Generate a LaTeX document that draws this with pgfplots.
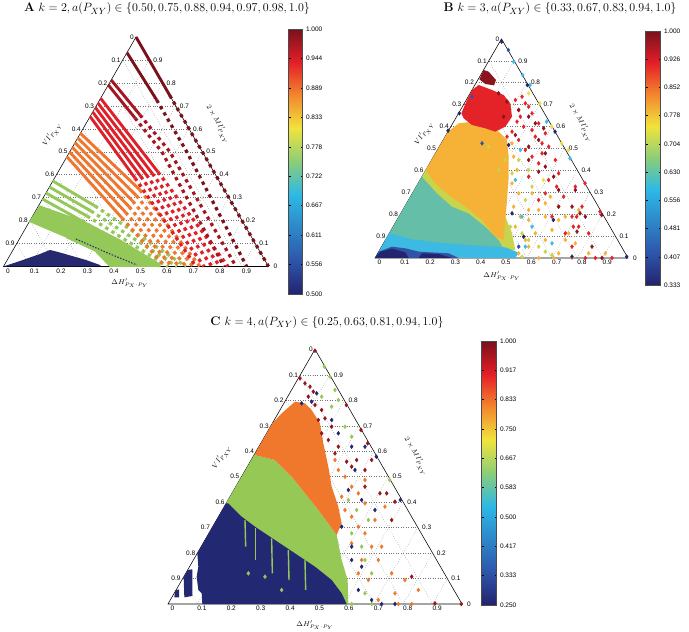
\documentclass[border=0pt]{standalone}
\usepackage{fontspec}
\usepackage{pgfplots}
\pgfplotsset{compat=1.18}
\usetikzlibrary{calc}
\newfontfamily\hv{Liberation Sans}

% panel A colours
\definecolor{aNavy}{RGB}{38,40,112}
\definecolor{aGreen}{RGB}{148,200,88}
\definecolor{aOrange}{RGB}{240,118,45}
\definecolor{aRed}{RGB}{222,32,40}
\definecolor{aMaroon}{RGB}{165,22,32}
\definecolor{aDark}{RGB}{122,17,27}
% panel B colours
\definecolor{bDark}{RGB}{140,20,30}
\definecolor{bRed}{RGB}{228,35,40}
\definecolor{bOrange}{RGB}{245,178,55}
\definecolor{bYG}{RGB}{200,212,75}
\definecolor{bTeal}{RGB}{100,190,168}
\definecolor{bCyan}{RGB}{60,186,228}
\definecolor{bBlue}{RGB}{50,82,165}
\definecolor{bNavy}{RGB}{35,38,110}
\definecolor{bYellow}{RGB}{235,225,70}
% panel C colours
\definecolor{cNavy}{RGB}{35,40,115}
\definecolor{cGreen}{RGB}{150,200,85}
\definecolor{cOrange}{RGB}{240,120,45}
\definecolor{cDark}{RGB}{150,20,30}

\tikzset{
  gridline/.style={black!55, dotted, line width=0.45pt},
  tl/.style={font=\hv\fontsize{6.5}{7}\selectfont, inner sep=0.5pt},
  lab/.style={font=\fontsize{7.5}{9}\selectfont, inner sep=0pt},
  ttl/.style={font=\fontsize{12.5}{15}\selectfont, inner sep=0pt},
}
\pgfplotsset{
  colormap={mjet}{rgb255(0cm)=(35,35,110) rgb255(1cm)=(45,85,170) rgb255(3cm)=(45,185,230) rgb255(4cm)=(140,205,120) rgb255(5cm)=(240,228,60) rgb255(6cm)=(243,135,45) rgb255(7cm)=(228,30,40) rgb255(8cm)=(120,18,28)},
  tern/.style={scale only axis, axis lines=none, xtick=\empty, ytick=\empty, y dir=reverse,
    clip=false, enlargelimits=false, anchor=south west, colormap name=mjet, colorbar},
  cbar/.style={anchor=north west, scale only axis, y dir=normal, axis lines=box, xtick=\empty,
    ytick pos=both, yticklabel pos=right, tick align=inside, major tick length=2pt,
    yticklabel style={font=\hv\fontsize{6.5}{7}\selectfont},
    axis line style={black!70, line width=0.4pt}, ytick style={black, line width=0.4pt}},
  stripe/.style={line width=2.9pt},
  dstripe/.style={line width=3.2pt, dash pattern=on 3.4pt off 3.8pt},
  pts/.style={only marks, mark=diamond*, mark size=2pt},
}

% ternary frame: #1 = x of lower-left corner, #2 = y of base (y grows downward), #3 = side
\newcommand{\ternframe}[3]{%
  \pgfplotsinvokeforeach{1,...,9}{%
    \draw[gridline] (axis cs:{#1+#3*##1/20},{#2-0.8660254*#3*##1/10}) -- (axis cs:{#1+#3-#3*##1/20},{#2-0.8660254*#3*##1/10});
    \draw[gridline] (axis cs:{#1+#3*##1/10},#2) -- (axis cs:{#1+#3/2+#3*##1/20},{#2-0.8660254*#3*(1-##1/10)});
    \draw[gridline] (axis cs:{#1+#3*##1/20},{#2-0.8660254*#3*##1/10}) -- (axis cs:{#1+#3*##1/10},#2);
  }
  \draw[black, line width=0.55pt] (axis cs:#1,#2) -- (axis cs:{#1+#3},#2) -- (axis cs:{#1+#3/2},{#2-0.8660254*#3}) -- cycle;
}
\newcommand{\ternlabels}[3]{%
  \node[tl, anchor=east, xshift=-1.5pt] at (axis cs:{#1+#3/2},{#2-0.8660254*#3}) {0};
  \pgfplotsinvokeforeach{1,...,9}{%
    \node[tl, anchor=east, xshift=-1.5pt] at (axis cs:{#1+#3*(1-##1/10)/2},{#2-0.8660254*#3*(1-##1/10)}) {0.##1};
    \node[tl, anchor=west, xshift=3.5pt] at (axis cs:{#1+#3-#3*##1/20},{#2-0.8660254*#3*##1/10}) {0.##1};
    \node[tl, anchor=north, xshift=4.5pt, yshift=-1.5pt] at (axis cs:{#1+#3*##1/10},#2) {0.##1};
  }
  \node[tl, anchor=north, xshift=4.5pt, yshift=-1.5pt] at (axis cs:#1,#2) {0};
  \node[tl, anchor=west, xshift=4.5pt] at (axis cs:{#1+#3},#2) {0};
}

\begin{document}
\begin{tikzpicture}
\path[use as bounding box] (0,0) rectangle (689pt,632pt);

%================ Panel A (units: 1 = 1pt) ================
\begin{axis}[tern, at={(0pt,332pt)}, width=275pt, height=270pt,
  xmin=0, xmax=275, ymin=30, ymax=300,
  point meta min=0.5, point meta max=1,
  colorbar style={cbar, at={($(parent axis.north west)+(280pt,1pt)$)}, width=14pt, height=265pt,
    ytick={0.5,0.55556,0.61111,0.66667,0.72222,0.77778,0.83333,0.88889,0.94444,1},
    yticklabels={0.500,0.556,0.611,0.667,0.722,0.778,0.833,0.889,0.944,1.000}}]
\ternframe{3.5}{266.5}{265}
% a = 0.75
\addplot[fill=aGreen, draw=aGreen, line width=1pt] coordinates {(29.4,222) (40,206) (85,222) (120,240) (160,264) (160,266.5) (110,266.5) (95,251) (67,238)};
\addplot[stripe, aGreen] coordinates {(52.9,181) (95,206)};
\addplot[dstripe, aGreen] coordinates {(95,206) (186,266.5)};
\addplot[stripe, aGreen] coordinates {(49.4,187) (91,211)};
\addplot[dstripe, aGreen] coordinates {(91,211) (177,266.5)};
\addplot[stripe, aGreen] coordinates {(45.9,193) (87,216)};
\addplot[dstripe, aGreen] coordinates {(87,216) (168,266.5)};
\addplot[stripe, aGreen] coordinates {(42.5,199) (82,221)};
\addplot[dstripe, aGreen] coordinates {(82,221) (160,266.5)};
% a = 0.50
\addplot[fill=aNavy, draw=none] coordinates {(3.5,266.5) (20,261) (40,254) (50,250) (58,252) (72,256) (86,260) (100,265) (101,266.5)};
\addplot[aNavy, line width=1pt, dash pattern=on 1.5pt off 1.5pt] coordinates {(76,239) (110,254) (137,265)};
% a = 0.88
\addplot[stripe, aOrange] coordinates {(80.4,133.3) (140,190)};
\addplot[dstripe, aOrange] coordinates {(140,190) (200,266.5)};
\addplot[stripe, aOrange] coordinates {(77.7,138) (136.4,195.6)};
\addplot[dstripe, aOrange] coordinates {(136.4,195.6) (193,266.5)};
\addplot[stripe, aOrange] coordinates {(75,142.7) (132.8,201.2)};
\addplot[dstripe, aOrange] coordinates {(132.8,201.2) (186,266.5)};
\addplot[stripe, aOrange] coordinates {(72.3,147.3) (129.2,206.8)};
\addplot[dstripe, aOrange] coordinates {(129.2,206.8) (179,266.5)};
\addplot[stripe, aOrange] coordinates {(69.6,152) (125.6,212.4)};
\addplot[dstripe, aOrange] coordinates {(125.6,212.4) (172,266.5)};
\addplot[stripe, aOrange] coordinates {(66.9,156.7) (122,218)};
\addplot[dstripe, aOrange] coordinates {(122,218) (165,266.5)};
% a = 0.94
\addplot[stripe, aRed] coordinates {(100.6,98.3) (158,172)};
\addplot[dstripe, aRed] coordinates {(158,172) (228,266.5)};
\addplot[stripe, aRed] coordinates {(97.9,103) (152.3,173.5)};
\addplot[dstripe, aRed] coordinates {(152.3,173.5) (220,266.5)};
\addplot[stripe, aRed] coordinates {(95.3,107.5) (146.5,175)};
\addplot[dstripe, aRed] coordinates {(146.5,175) (212,266.5)};
\addplot[stripe, aRed] coordinates {(92.7,112) (140.8,176.5)};
\addplot[dstripe, aRed] coordinates {(140.8,176.5) (204,266.5)};
\addplot[stripe, aRed] coordinates {(90.1,116.5) (135,178)};
\addplot[dstripe, aRed] coordinates {(135,178) (196,266.5)};
% a = 0.97, 0.98
\addplot[stripe, aMaroon] coordinates {(111.2,80) (140,115)};
\addplot[dstripe, aMaroon] coordinates {(140,115) (170,152) (236,266.5)};
\addplot[stripe, aMaroon] coordinates {(108.3,85) (135,118)};
\addplot[dstripe, aMaroon] coordinates {(135,118) (162,152) (224,266.5)};
% a = 1.0
\addplot[stripe, aDark] coordinates {(127,52.7) (156.7,100)};
\addplot[dstripe, aDark] coordinates {(156.7,100) (186.7,151.7) (246.7,266.5)};
\addplot[stripe, aDark] coordinates {(136,37) (169.8,95.5)};
\addplot[dstripe, aDark] coordinates {(169.8,95.5) (268.5,266.5)};
\ternlabels{3.5}{266.5}{265}
\node[ttl] at (axis cs:167,9) {\textbf{A} $k=2, a(P_{XY})\in\{0.50, 0.75, 0.88, 0.94, 0.97, 0.98, 1.0\}$};
\node[lab] at (axis cs:130,283) {$\Delta H'_{P_X\cdot P_Y}$};
\node[lab, rotate=60] at (axis cs:52,134.5) {$VI'_{P_{XY}}$};
\node[lab, rotate=-60] at (axis cs:218,124.5) {$2\times MI'_{P_{XY}}$};
\end{axis}

%================ Panel B (units: 1 = 1/3 pt) ================
\begin{axis}[tern, at={(360pt,332pt)}, width=280pt, height=270pt,
  xmin=-36, xmax=804, ymin=-90, ymax=720,
  point meta min=0.33333, point meta max=1,
  colorbar style={cbar, at={($(parent axis.north west)+(277pt,-1pt)$)}, width=15pt, height=254pt,
    ytick={0.33333,0.40741,0.48148,0.55556,0.62963,0.7037,0.77778,0.85185,0.92593,1},
    yticklabels={0.333,0.407,0.481,0.556,0.630,0.704,0.778,0.852,0.926,1.000}}]
\ternframe{9}{594}{759}
\addplot[fill=bTeal, draw=none] coordinates {(161,330) (220,380) (300,430) (360,470) (400,520) (420,560) (380,566) (300,563) (200,556) (120,548) (40,540)};
\addplot[fill=bYG, draw=none] coordinates {(167,320) (230,360) (300,400) (350,430) (400,470) (420,520) (430,570) (400,575) (380,540) (340,500) (290,460) (240,440) (195,400) (150,350)};
\addplot[fill=bOrange, draw=none] coordinates {(228,215) (260,190) (300,185) (340,200) (380,215) (405,240) (410,290) (410,350) (405,420) (400,480) (395,540) (370,530) (330,480) (280,440) (230,405) (190,370) (161,330)};
\addplot[fill=bCyan, draw=none] coordinates {(52,520) (120,538) (200,548) (300,556) (400,562) (440,578) (430,594) (300,594) (200,590) (100,585) (20,575)};
\addplot[fill=bBlue, draw=none] coordinates {(20,575) (60,560) (100,565) (140,575) (230,580) (260,594) (9,594)};
\addplot[fill=bNavy, draw=none] coordinates {(9,594) (25,575) (60,566) (100,577) (110,594)};
\addplot[fill=bNavy, draw=none] coordinates {(140,594) (150,580) (200,582) (240,594)};
\addplot[fill=bRed, draw=none] coordinates {(320,75) (360,90) (395,105) (415,130) (420,170) (400,200) (370,215) (340,205) (300,195) (275,175) (268,160) (285,120) (300,90)};
\addplot[fill=bDark, draw=none] coordinates {(335,30) (350,35) (372,60) (366,76) (340,72) (322,58)};
\addplot[pts, bYG] coordinates {(440,300) (420,340) (470,330) (480,380) (500,560) (540,585) (520,575) (450,520) (400,300) (380,330) (350,260) (460,420) (420,560) (450,590) (415,500) (470,540)};
\addplot[pts, bOrange] coordinates {(470,450) (500,450) (520,470) (560,480) (540,510) (580,540) (610,550) (560,580) (600,594) (650,580) (520,540) (490,520) (470,560) (500,594) (620,450) (480,400) (520,430) (545,594) (700,580) (580,470) (470,480) (420,250) (425,290) (435,330) (420,370) (440,400) (425,440) (445,470) (430,500) (460,540) (440,580) (535,410) (560,440) (590,520) (380,230) (350,225)};
\addplot[pts, bRed] coordinates {(460,130) (480,160) (500,190) (480,210) (510,250) (530,260) (460,270) (480,290) (550,300) (500,310) (560,340) (530,360) (610,380) (575,410) (639,370) (684,455) (600,470) (620,500) (540,470) (500,420) (520,400) (470,350) (600,560) (670,594) (720,594) (640,594) (580,520) (650,520) (630,440) (450,110) (470,140) (455,200) (440,240) (490,230) (520,220) (554,380) (604,500) (614,470) (510,280) (430,120) (440,150) (435,185) (420,215) (405,230) (445,170)};
\addplot[pts, bDark] coordinates {(380,100) (405,125) (440,150) (470,170) (490,190) (515,205) (500,240) (395,170) (430,225) (470,260) (520,320) (500,335) (560,390) (610,390) (560,440) (640,470) (689,465) (615,515) (660,560) (690,594) (520,280) (545,350) (600,440) (470,300) (624,460)};
\addplot[pts, bCyan] coordinates {(425,5) (452,45) (474,75) (524,185) (594,295) (430,360) (450,470) (480,500) (460,560) (540,550) (445,270)};
\addplot[pts, bYellow] coordinates {(504,130) (539,200) (569,250) (589,270) (470,100) (514,360)};
\addplot[pts, bBlue] coordinates {(409,-30) (300,110) (330,250) (440,560)};
\addplot[pts, bNavy] coordinates {(389,-55) (466,75) (549,215) (262,160) (228,212) (410,255) (420,460) (764,590) (455,530) (600,590) (544,480)};
\ternlabels{9}{594}{759}
\node[ttl] at (axis cs:564,-153) {\textbf{B} $k=3, a(P_{XY})\in\{0.33, 0.67, 0.83, 0.94, 1.0\}$};
\node[lab] at (axis cs:390,648) {$\Delta H'_{P_X\cdot P_Y}$};
\node[lab, rotate=60] at (axis cs:156,220.5) {$VI'_{P_{XY}}$};
\node[lab, rotate=-60] at (axis cs:627,190.5) {$2\times MI'_{P_{XY}}$};
\end{axis}

%================ Panel C (units: 1 = 1/3 pt) ================
\begin{axis}[tern, at={(150pt,2pt)}, width=320pt, height=300pt,
  xmin=-45, xmax=915, ymin=-90, ymax=810,
  point meta min=0.25, point meta max=1,
  colorbar style={cbar, at={($(parent axis.north west)+(323pt,-11pt)$)}, width=15pt, height=264pt,
    ytick={0.25,0.33333,0.41667,0.5,0.58333,0.66667,0.75,0.83333,0.91667,1},
    yticklabels={0.250,0.333,0.417,0.500,0.583,0.667,0.750,0.833,0.917,1.000}}]
\ternframe{9}{732}{882}
\addplot[fill=cGreen, draw=none] coordinates {(268,285) (330,300) (380,350) (420,400) (460,450) (490,490) (515,525) (530,600) (548,660) (550,732) (180,732) (183,430)};
\addplot[fill=cOrange, draw=none] coordinates {(322,190) (350,160) (390,125) (420,130) (440,150) (465,190) (475,250) (490,320) (500,380) (520,440) (530,490) (515,525) (490,490) (460,450) (420,400) (380,350) (330,300) (268,285)};
\addplot[fill=cNavy, draw=none] coordinates {(183,430) (97,580) (100,620) (95,650) (100,690) (110,700) (112,732) (545,732) (530,700) (500,660) (450,620) (390,580) (330,540) (270,500) (230,470) (190,430)};
\addplot[fill=cNavy, draw=none] coordinates {(68,630) (82,628) (82,708) (58,712) (56,652)};
\addplot[fill=cNavy, draw=none] coordinates {(30,692) (42,688) (42,712) (28,712)};
\addplot[cGreen, line width=1.4pt] coordinates {(240,480) (242,560)};
\addplot[cGreen, line width=1.4pt] coordinates {(272,505) (272,600)};
\addplot[cGreen, line width=1.4pt] coordinates {(320,535) (322,640)};
\addplot[cGreen, line width=1.4pt] coordinates {(370,570) (372,660)};
\addplot[cGreen, line width=1.4pt] coordinates {(420,600) (422,690)};
\addplot[pts, cGreen] coordinates {(478,20) (495,50) (510,90) (470,110) (520,120) (500,140) (540,200) (560,230) (674,360) (550,420) (575,450) (610,480) (560,520) (590,560) (600,600) (620,640) (600,700) (620,732) (560,732) (250,640) (300,650) (350,690)};
\addplot[pts, cOrange] coordinates {(520,330) (540,350) (560,380) (580,400) (600,430) (540,450) (560,470) (580,500) (600,520) (630,480) (650,560) (620,560) (680,640) (640,600) (580,640) (610,660) (690,700) (720,660) (760,690) (640,720) (700,732) (740,732) (510,300) (530,410) (600,360) (660,440) (560,550) (590,600)};
\addplot[pts, cNavy] coordinates {(455,100) (410,130) (440,125) (500,180) (520,220) (560,260) (600,260) (634,290) (706,420) (570,330) (550,390) (590,420) (630,450) (530,500) (560,560) (560,600) (590,620) (580,690) (620,720) (650,732) (690,732)};
\addplot[pts, cDark] coordinates {(450,-28) (405,55) (420,70) (435,80) (445,95) (430,110) (450,135) (470,150) (460,180) (480,175) (500,200) (520,260) (510,280) (544,135) (588,210) (608,250) (545,305) (560,320) (600,330) (620,300) (575,300) (600,380) (645,400) (665,400) (690,425) (680,480) (740,650) (810,730) (889,732) (470,220) (490,240)};
\ternlabels{9}{732}{882}
\node[ttl] at (axis cs:486,-114) {\textbf{C} $k=4, a(P_{XY})\in\{0.25, 0.63, 0.81, 0.94, 1.0\}$};
\node[lab] at (axis cs:450,795) {$\Delta H'_{P_X\cdot P_Y}$};
\node[lab, rotate=60] at (axis cs:170,291.5) {$VI'_{P_{XY}}$};
\node[lab, rotate=-60] at (axis cs:753,289.5) {$2\times MI'_{P_{XY}}$};
\end{axis}
\end{tikzpicture}
\end{document}
